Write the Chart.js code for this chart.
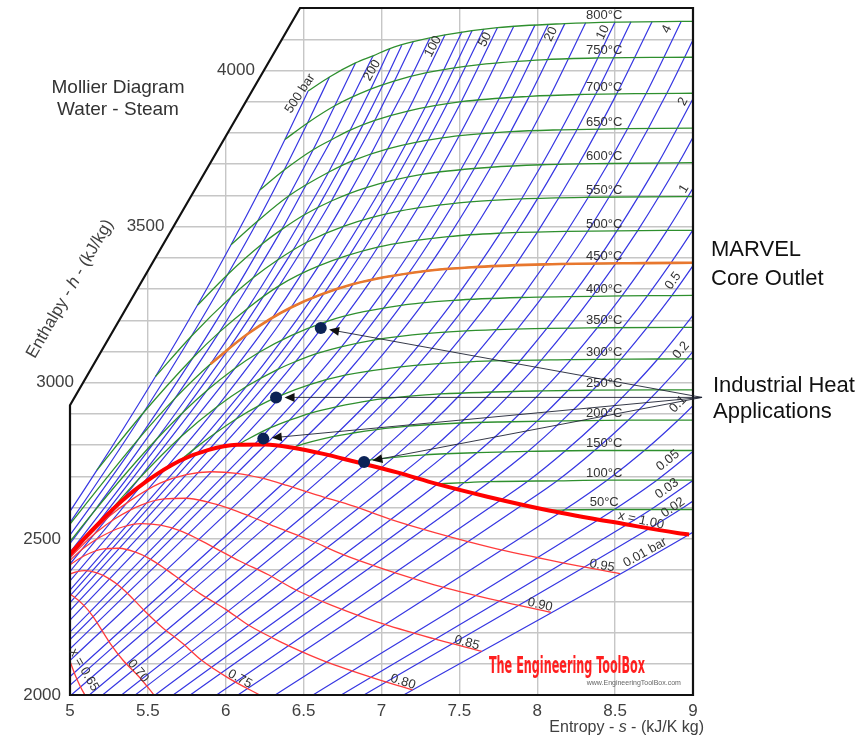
<!DOCTYPE html>
<html><head><meta charset="utf-8">
<script src="https://cdn.jsdelivr.net/npm/chart.js@4.4.1/dist/chart.umd.min.js"></script>
<style>html,body{margin:0;padding:0;background:#fff;}#wrap{position:relative;width:867px;height:739px;}</style>
</head><body><div id="wrap"><canvas id="c" width="867" height="739"></canvas></div>
<script>
// ---- axis ticks ----
const sTicks=[5,5.5,6,6.5,7,7.5,8,8.5,9];
const hTicks=[2000,2500,3000,3500,4000];

// ---- saturated vapour line x = 1.00 [s, h] ----
const satVapor=[[4.80,2334],[5.054,2481],[5.211,2563],[5.336,2623],[5.49,2684],[5.705,2750],[5.89,2785],[6.073,2801],[6.254,2802],[6.431,2792],[6.62,2773],[6.838,2746],[7.10,2713],[7.354,2676],[7.68,2635],[8.075,2591],[8.576,2546],[8.899,2519],[8.975,2514]];

// ---- constant quality lines ----
const q95=[[4.766,2312],[4.997,2445],[5.139,2518],[5.252,2572],[5.391,2624],[5.582,2679],[5.747,2706],[5.909,2715],[6.070,2710],[6.226,2695],[6.394,2671],[6.588,2640],[6.826,2604],[7.053,2563],[7.348,2519],[7.707,2472],[8.148,2425],[8.531,2389]];
const q90=[[4.731,2290],[4.940,2409],[5.068,2474],[5.168,2520],[5.291,2565],[5.460,2609],[5.603,2628],[5.745,2630],[5.885,2618],[6.021,2598],[6.167,2570],[6.338,2535],[6.550,2494],[6.750,2450],[7.015,2403],[7.339,2353],[7.739,2303],[8.087,2265]];
const q85=[[4.697,2267],[4.883,2373],[4.996,2429],[5.084,2469],[5.192,2505],[5.337,2538],[5.460,2549],[5.581,2544],[5.701,2527],[5.816,2501],[5.941,2468],[6.089,2429],[6.274,2385],[6.448,2337],[6.681,2287],[6.970,2234],[7.329,2181],[7.644,2140]];
const q80=[[4.662,2245],[4.827,2338],[4.924,2385],[5.001,2417],[5.092,2446],[5.215,2468],[5.316,2470],[5.417,2458],[5.516,2435],[5.611,2404],[5.714,2367],[5.839,2323],[5.998,2275],[6.145,2224],[6.348,2171],[6.601,2115],[6.920,2059],[7.200,2016]];
const q75=[[4.628,2223],[4.770,2302],[4.853,2340],[4.917,2366],[4.993,2386],[5.092,2398],[5.173,2391],[5.253,2372],[5.332,2343],[5.406,2307],[5.488,2265],[5.589,2218],[5.722,2166],[5.843,2112],[6.015,2055],[6.233,1996]];
const q70=[[4.593,2201],[4.713,2266],[4.781,2295],[4.833,2314],[4.893,2327],[4.970,2328],[5.029,2313],[5.089,2287],[5.147,2252],[5.201,2210],[5.261,2163],[5.339,2112],[5.446,2057],[5.541,1999]];
const q65=[[4.709,2251],[4.794,2267],[4.847,2257],[4.886,2234],[4.925,2200],[4.963,2160],[4.996,2113],[5.035,2062],[5.089,2006],[5.170,1947]];
const qualityLines=[q95,q90,q85,q80,q75,q70,q65];

// ---- isobars (bar) [s, h] ----
const p500=[[4.00,1875],[4.588,2284],[5.173,2720],[5.549,3020],[5.818,3248],[6.034,3442],[6.219,3617],[6.380,3779],[6.529,3934]];
const p400=[[4.114,1930],[4.946,2513],[5.470,2903],[5.779,3149],[6.011,3346],[6.205,3518],[6.375,3681],[6.525,3832],[6.666,3979]];
const p300=[[4.473,2151],[5.442,2821],[5.791,3081],[6.034,3275],[6.233,3444],[6.406,3599],[6.561,3746],[6.700,3887],[6.833,4024]];
const p250=[[4.03,1849],[5.142,2580],[5.674,2950],[5.959,3162],[6.176,3336],[6.360,3491],[6.52,3637],[6.678,3778],[6.812,3912],[6.946,4047]];
const p200=[[4.285,2000],[4.927,2410],[5.554,2818],[5.902,3060],[6.140,3238],[6.335,3394],[6.505,3538],[6.66,3674],[6.799,3809],[6.93,3940],[7.054,4070]];
const p175=[[4.301,2000],[5.142,2528],[5.72,2902],[6.02,3110],[6.24,3275],[6.43,3423],[6.59,3560],[6.74,3694],[6.88,3825],[7.01,3954],[7.13,4081]];
const p150=[[4.318,2000],[5.310,2610],[5.442,2692],[5.881,2976],[6.140,3156],[6.344,3311],[6.520,3450],[6.678,3582],[6.82,3712],[6.957,3840],[7.084,3967],[7.204,4092]];
const p125=[[4.341,2000],[5.462,2674],[5.71,2826],[6.05,3040],[6.29,3201],[6.48,3343],[6.64,3476],[6.79,3604],[6.93,3730],[7.06,3855],[7.19,3979],[7.31,4103]];
const p100=[[4.374,2000],[5.614,2725],[5.944,2923],[6.212,3097],[6.419,3241],[6.597,3374],[6.756,3501],[6.903,3625],[7.04,3749],[7.169,3870],[7.29,3993],[7.408,4114]];
const p80=[[4.409,2000],[5.743,2758],[5.791,2785],[6.130,2987],[6.363,3138],[6.555,3272],[6.724,3398],[7.021,3642],[7.281,3882],[7.517,4124]];
const p70=[[4.432,2000],[5.813,2772],[5.932,2838],[6.228,3016],[6.448,3158],[6.633,3287],[6.797,3410],[7.090,3650],[7.349,3888],[7.582,4128]];
const p60=[[4.460,2000],[5.889,2784],[6.067,2884],[6.334,3043],[6.541,3177],[6.719,3302],[6.880,3422],[7.168,3658],[7.423,3894],[7.657,4133]];
const p50=[[4.494,2000],[5.973,2794],[6.208,2925],[6.449,3068],[6.646,3196],[6.819,3316],[6.976,3434],[7.259,3667],[7.512,3900],[7.744,4137]];
const p40=[[4.539,2000],[6.070,2801],[6.362,2961],[6.582,3093],[6.769,3214],[6.936,3330],[7.090,3445],[7.369,3674],[7.620,3906],[7.850,4142]];
const p30=[[4.601,2000],[6.187,2804],[6.287,2856],[6.539,2994],[6.743,3115],[6.921,3231],[7.083,3344],[7.234,3457],[7.509,3682],[7.757,3912],[7.986,4146]];
const p25=[[4.642,2000],[6.258,2803],[6.409,2880],[6.644,3008],[6.840,3126],[7.015,3240],[7.175,3351],[7.323,3462],[7.596,3686],[7.843,3915],[8.071,4148]];
const p20=[[4.695,2000],[6.341,2800],[6.545,2903],[6.766,3024],[6.956,3137],[7.127,3248],[7.285,3358],[7.432,3468],[7.702,3690],[7.949,3917],[8.177,4150]];
const p15=[[4.765,2000],[6.445,2792],[6.709,2923],[6.918,3038],[7.102,3148],[7.269,3256],[7.570,3473],[7.839,3694],[8.084,3920],[8.311,4153]];
const p10=[[4.870,2000],[6.587,2778],[6.694,2828],[6.925,2943],[7.123,3051],[7.301,3158],[7.465,3264],[7.762,3479],[8.029,3698],[8.273,3923],[8.500,4155]];
const p8=[[4.929,2000],[6.663,2769],[6.817,2839],[7.040,2950],[7.234,3057],[7.409,3162],[7.571,3267],[7.866,3481],[8.132,3700],[8.375,3924],[8.602,4156]];
const p6=[[5.008,2000],[6.760,2757],[6.968,2850],[7.182,2957],[7.373,3062],[7.546,3166],[7.709,3270],[8.002,3483],[8.267,3701],[8.510,3925],[8.737,4156]];
const p4=[[5.124,2000],[6.896,2739],[6.930,2753],[7.171,2861],[7.379,2964],[7.566,3067],[7.738,3170],[7.899,3273],[8.191,3485],[8.456,3702],[8.699,3926],[8.924,4157]];
const p3=[[5.209,2000],[6.992,2725],[7.078,2761],[7.312,2866],[7.517,2968],[7.702,3069],[7.872,3172],[8.033,3275],[8.325,3486],[8.589,3703],[8.832,3927],[9.058,4158]];
const p2=[[5.331,2000],[7.127,2707],[7.280,2769],[7.507,2871],[7.709,2971],[7.893,3072],[8.222,3277],[8.513,3487],[8.777,3704],[9.019,3927]];
const p1_5=[[5.419,2000],[7.223,2694],[7.419,2773],[7.644,2873],[7.844,2973],[8.027,3073],[8.355,3278],[8.646,3488],[8.910,3705],[9.152,3928]];
const p1=[[5.547,2000],[7.359,2676],[7.613,2776],[7.834,2875],[8.033,2974],[8.216,3074],[8.544,3278],[8.834,3488],[9.098,3705]];
const p0_7=[[5.662,2000],[7.479,2660],[7.530,2680],[7.779,2779],[7.999,2877],[8.197,2975],[8.380,3075],[8.708,3279],[8.998,3488],[9.262,3705]];
const p0_5=[[5.772,2000],[7.594,2646],[7.695,2683],[7.940,2780],[8.158,2878],[8.356,2976],[8.537,3075],[8.864,3279],[9.155,3488]];
const p0_3=[[5.941,2000],[7.768,2625],[7.941,2685],[8.181,2782],[8.397,2879],[8.593,2977],[8.774,3076],[9.101,3280]];
const p0_2=[[6.078,2000],[7.908,2610],[8.128,2686],[8.368,2783],[8.584,2880],[8.780,2977],[8.961,3077],[9.288,3280]];
const p0_1=[[6.317,2000],[8.150,2585],[8.175,2593],[8.448,2688],[8.688,2783],[8.904,2880],[9.100,2977]];
const p0_05=[[6.560,2000],[8.395,2562],[8.495,2594],[8.768,2688],[9.008,2783]];
const p0_03=[[6.741,2000],[8.576,2546],[8.730,2594],[9.003,2688]];
const p0_02=[[6.887,2000],[8.723,2534],[8.918,2594],[9.191,2688]];
const p0_01=[[7.142,2000],[8.975,2514],[9.238,2594]];
const isobars=[p500,p400,p300,p250,p200,p175,p150,p125,p100,p80,p70,p60,p50,p40,p30,p25,p20,p15,p10,p8,p6,p4,p3,p2,p1_5,p1,p0_7,p0_5,p0_3,p0_2,p0_1,p0_05,p0_03,p0_02,p0_01];

// ---- isotherms (°C) [s, h] ----
const t800=[[6.529,3934],[6.666,3979],[6.833,4024],[6.946,4047],[7.054,4070],[7.204,4092],[7.408,4114],[7.744,4137],[8.177,4150],[8.500,4155],[8.924,4157],[9.245,4158]];
const t750=[[6.380,3779],[6.525,3832],[6.700,3887],[6.93,3940],[7.08,3966],[7.29,3993],[7.63,4019],[8.06,4035],[8.39,4040],[8.81,4042],[9.45,4043]];
const t700=[[6.219,3617],[6.375,3681],[6.561,3746],[6.678,3778],[6.799,3809],[6.957,3840],[7.169,3870],[7.512,3900],[7.949,3917],[8.273,3923],[8.699,3926],[9.019,3927],[9.340,3928]];
const t650=[[6.034,3442],[6.205,3518],[6.406,3599],[6.66,3674],[6.82,3712],[7.04,3749],[7.39,3784],[7.83,3804],[8.155,3810],[8.58,3814],[9.22,3816]];
const t600=[[5.818,3248],[6.011,3346],[6.233,3444],[6.360,3491],[6.505,3538],[6.678,3582],[6.903,3625],[7.259,3667],[7.702,3690],[8.029,3698],[8.456,3702],[9.098,3705]];
const t550=[[5.549,3020],[5.779,3149],[6.034,3275],[6.176,3336],[6.335,3394],[6.520,3450],[6.756,3501],[7.122,3550],[7.570,3579],[7.898,3589],[8.327,3594],[8.970,3596],[9.13,3596]];
const t500=[[5.173,2720],[5.470,2903],[5.791,3081],[5.959,3162],[6.140,3238],[6.344,3311],[6.597,3374],[6.976,3434],[7.432,3468],[7.762,3479],[8.191,3485],[8.834,3488],[9.155,3488]];
const t450=[[4.588,2284],[4.946,2513],[5.442,2821],[5.674,2950],[5.902,3060],[6.140,3156],[6.419,3241],[6.819,3316],[7.285,3358],[7.62,3371],[8.05,3379],[8.69,3383],[9.01,3384],[9.25,3384]];
const t400=[[4.003,1875],[4.114,1930],[4.473,2151],[5.142,2580],[5.554,2818],[5.881,2976],[6.212,3097],[6.646,3196],[7.127,3248],[7.465,3264],[7.899,3273],[8.544,3278],[8.864,3279],[9.101,3280]];
const t350=[[5.211,2563],[5.442,2692],[5.71,2826],[5.944,2923],[6.130,2987],[6.334,3043],[6.449,3068],[6.582,3093],[6.956,3137],[7.301,3158],[7.738,3170],[8.387,3176],[8.943,3177],[9.13,3177]];
const t300=[[5.705,2750],[5.791,2785],[5.932,2838],[6.067,2884],[6.208,2925],[6.362,2961],[6.539,2994],[6.766,3024],[7.123,3051],[7.566,3067],[8.216,3074],[8.774,3076],[9.094,3077]];
const t250=[[6.073,2801],[6.287,2856],[6.409,2880],[6.545,2903],[6.709,2923],[6.925,2943],[7.182,2957],[7.379,2964],[8.033,2974],[8.356,2976],[8.780,2977],[9.100,2977]];
const t200=[[6.431,2792],[6.455,2797],[6.694,2828],[6.817,2839],[6.968,2850],[7.171,2861],[7.507,2871],[7.834,2875],[8.158,2878],[8.584,2880],[8.904,2880],[9.224,2880]];
const t150=[[6.838,2746],[6.930,2753],[7.078,2761],[7.280,2769],[7.613,2776],[7.940,2780],[8.368,2783],[8.688,2783],[9.008,2783]];
const t100=[[7.354,2676],[7.530,2680],[7.695,2683],[8.128,2686],[8.448,2688],[8.768,2688],[9.003,2688]];
const t50=[[8.075,2591],[8.175,2593],[8.495,2594],[8.730,2594],[8.918,2594],[9.238,2594]];
const isotherms=[t800,t750,t700,t650,t600,t550,t500,t450,t400,t350,t300,t250,t200,t150,t100,t50];
const isoTemps=[800,750,700,650,600,550,500,450,400,350,300,250,200,150,100,50];

// ---- MARVEL core outlet (450 °C from 200 bar) ----
const marvelOutlet=[[5.902,3060],[6.140,3156],[6.419,3241],[6.819,3316],[7.285,3358],[7.62,3371],[8.05,3379],[8.69,3383],[9.01,3384]];
// ---- industrial heat application points ----
const heatPoints=[[6.61,3175],[6.323,2953],[6.241,2821],[6.888,2746]];

// ---- annotation layout (positions in data units) ----
const arrowFrom=[9.058,2953];
const diagTop=[6.477,4200];
const diagBottom=[5,2928];
const isobarLabels=[["500 bar",6.477,3926,-57],["200",6.939,4000,-60],["100",7.331,4077,-62],["50",7.665,4099,-63],["20",8.088,4116,-64],["10",8.422,4122,-64],["4",8.833,4132,-64],["2",8.936,3900,-62],["1",8.942,3621,-59],["0.5",8.872,3326,-54],["0.2",8.923,3104,-50],["0.1",8.904,2931,-46],["0.05",8.839,2751,-39],["0.03",8.833,2661,-36],["0.02",8.872,2600,-34],["0.01 bar",8.692,2456,-29]];
const qualityLabels=[["x = 1.00",8.666,2559,12],["0.95",8.416,2414,10],["0.90",8.018,2289,12],["0.85",7.549,2167,15],["0.80",7.138,2042,17],["0.75",6.091,2051,29],["0.70",5.437,2077,51],["x = 0.65",5.090,2080,60]];
const tempLabelS=8.43;

const FONT='"Liberation Sans", Arial, Helvetica, sans-serif';
const toXY=a=>a.map(p=>({x:p[0],y:p[1]}));
function hAt(line,s){for(let i=0;i<line.length-1;i++){if(line[i][0]<=s&&line[i+1][0]>=s){const f=(s-line[i][0])/(line[i+1][0]-line[i][0]);return line[i][1]+f*(line[i+1][1]-line[i][1]);}}return line[line.length-1][1];}

const lineDs=(d,color,w,order)=>({data:toXY(d),showLine:true,borderColor:color,borderWidth:w,pointRadius:0,pointHoverRadius:0,cubicInterpolationMode:'monotone',fill:false,order:order});
const datasets=[];
datasets.push({data:toXY(heatPoints),showLine:false,pointRadius:6,pointHoverRadius:6,pointBackgroundColor:'#0b2256',pointBorderColor:'#0b2256',pointBorderWidth:0,order:0});
datasets.push(lineDs(marvelOutlet,'#e8772e',2.6,1));
datasets.push(lineDs(satVapor,'#ff0000',4,2));
qualityLines.forEach(q=>datasets.push(lineDs(q,'#ff3c3c',1.3,3)));
isotherms.forEach(t=>datasets.push(lineDs(t,'#2e8f2e',1.3,4)));
isobars.forEach(p=>datasets.push(lineDs(p,'#3636e2',1.2,5)));

function txt(ctx,s,x,y,font,color,rot,align,base){ctx.save();ctx.translate(x,y);if(rot)ctx.rotate(rot*Math.PI/180);ctx.font=font;ctx.fillStyle=color;ctx.textAlign=align||'center';ctx.textBaseline=base||'middle';ctx.fillText(s,0,0);ctx.restore();}
function mixed(ctx,parts,x,y,size,color,align,rot){ctx.save();ctx.translate(x,y);if(rot)ctx.rotate(rot*Math.PI/180);ctx.textBaseline='middle';ctx.fillStyle=color;ctx.textAlign='left';
 const fonts=parts.map(p=>(p[1]?'italic ':'')+size+'px '+FONT);let w=0;const ws=parts.map((p,i)=>{ctx.font=fonts[i];const m=ctx.measureText(p[0]).width;w+=m;return m;});
 let cx=align==='right'?-w:(align==='center'?-w/2:0);parts.forEach((p,i)=>{ctx.font=fonts[i];ctx.fillText(p[0],cx,0);cx+=ws[i];});ctx.restore();}

const deco={id:'deco',afterDatasetsDraw(chart){
 const ctx=chart.ctx,xs=chart.scales.x,ys=chart.scales.y,ca=chart.chartArea;
 const X=v=>xs.getPixelForValue(v),Y=v=>ys.getPixelForValue(v);
 const Bx=X(diagTop[0]),By=Y(diagTop[1]),Dx=X(diagBottom[0]),Dy=Y(diagBottom[1]);
 ctx.save();
 // white mask left of the slanted edge
 ctx.fillStyle='#fff';ctx.beginPath();ctx.moveTo(ca.left-4,ca.top-4);ctx.lineTo(Bx,ca.top-4);ctx.lineTo(Bx,By);ctx.lineTo(Dx,Dy);ctx.lineTo(ca.left-4,Dy);ctx.closePath();ctx.fill();
 // frame
 ctx.strokeStyle='#111';ctx.lineWidth=2.2;ctx.lineJoin='miter';
 ctx.beginPath();ctx.moveTo(Dx,Dy);ctx.lineTo(ca.left,ca.bottom);ctx.lineTo(ca.right,ca.bottom);ctx.lineTo(ca.right,ca.top);ctx.lineTo(Bx,By);ctx.closePath();ctx.stroke();
 // isobar labels
 const f13='13px '+FONT;
 isobarLabels.forEach(l=>txt(ctx,l[0],X(l[1]),Y(l[2]),f13,'#333',l[3]));
 qualityLabels.forEach(l=>txt(ctx,l[0],X(l[1]),Y(l[2]),f13,'#333',l[3]));
 isotherms.forEach((t,i)=>txt(ctx,isoTemps[i]+'°C',X(tempLabelS),Y(hAt(t,tempLabelS))-7,f13,'#333',0));
 // arrows
 const ox=X(arrowFrom[0]),oy=Y(arrowFrom[1]);
 ctx.strokeStyle='#1e2233';ctx.fillStyle='#111';ctx.lineWidth=0.9;
 heatPoints.forEach(p=>{const px=X(p[0]),py=Y(p[1]);const dx=ox-px,dy=oy-py,L=Math.hypot(dx,dy),ux=dx/L,uy=dy/L;const tx=px+ux*8.5,ty=py+uy*8.5;
  ctx.beginPath();ctx.moveTo(ox,oy);ctx.lineTo(tx+ux*8,ty+uy*8);ctx.stroke();
  ctx.beginPath();ctx.moveTo(tx,ty);ctx.lineTo(tx+ux*10-uy*4.5,ty+uy*10+ux*4.5);ctx.lineTo(tx+ux*10+uy*4.5,ty+uy*10-ux*4.5);ctx.closePath();ctx.fill();});
 // logo
 ctx.save();ctx.font='bold 22px "Liberation Sans Narrow", "DejaVu Sans Condensed", '+FONT;const lw=ctx.measureText('The Engineering ToolBox').width;
 ctx.translate(X(7.69),Y(2070));ctx.scale(156/lw,1.05);ctx.fillStyle='#ff1f1f';ctx.textBaseline='alphabetic';ctx.textAlign='left';ctx.fillText('The Engineering ToolBox',0,0);ctx.restore();
 txt(ctx,'www.EngineeringToolBox.com',X(8.62),Y(2037),'7px '+FONT,'#666',0);
 // tick labels
 const f17='17px '+FONT;
 sTicks.forEach(v=>txt(ctx,String(v),X(v),ca.bottom+16,f17,'#404040',0));
 hTicks.forEach(v=>{const py=Y(v);let xe=ca.left;if(py<Dy){xe=Dx+(Bx-Dx)*(Dy-py)/(Dy-By);}txt(ctx,String(v),xe-9,py,f17,'#404040',0,'right');});
 // axis titles
 mixed(ctx,[['Entropy - ',0],['s',1],[' - (kJ/K kg)',0]],ca.right+11,ca.bottom+33,16,'#404040','right',0);
 mixed(ctx,[['Enthalpy - ',0],['h',1],[' - (kJ/kg)',0]],70,289,17,'#404040','center',-60);
 // title
 txt(ctx,'Mollier Diagram',118,88,'19px '+FONT,'#333',0);
 txt(ctx,'Water - Steam',118,110,'19px '+FONT,'#333',0);
 // right-hand notes
 const f22='22px '+FONT;
 txt(ctx,'MARVEL',711,250,f22,'#111',0,'left');txt(ctx,'Core Outlet',711,279,f22,'#111',0,'left');
 txt(ctx,'Industrial Heat',713,386,f22,'#111',0,'left');txt(ctx,'Applications',713,412,f22,'#111',0,'left');
 ctx.restore();
}};

new Chart(document.getElementById('c'),{type:'scatter',data:{datasets:datasets},
 options:{responsive:false,devicePixelRatio:1,animation:false,events:[],
  layout:{padding:{left:70,right:174,top:8,bottom:44}},
  plugins:{legend:{display:false},tooltip:{enabled:false}},
  scales:{
   x:{type:'linear',min:5,max:9,ticks:{stepSize:0.5,display:false},grid:{color:'#c6c6c6',lineWidth:1.4,drawTicks:false},border:{display:false}},
   y:{type:'linear',min:2000,max:4200,ticks:{stepSize:100,display:false},grid:{color:'#c6c6c6',lineWidth:1.4,drawTicks:false},border:{display:false}}
  }},
 plugins:[deco]});
</script></body></html>
